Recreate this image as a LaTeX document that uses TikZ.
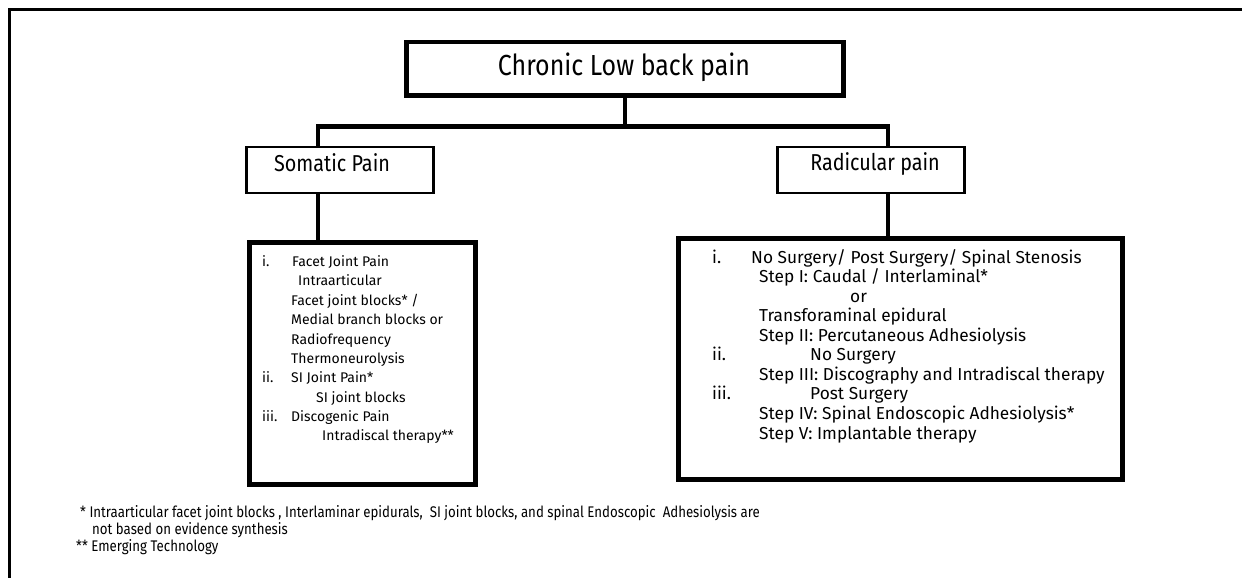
\documentclass[tikz,border=0pt]{standalone}
\usepackage{fontspec}
\setmainfont{Fira Sans}
\newfontfamily\condfont{Fira Sans}[FakeStretch=0.86]

\tikzset{
  titlebox/.style={draw, line width=4.5pt, inner sep=0pt, outer sep=0pt},
  headbox/.style={draw, line width=2.5pt, inner sep=0pt, outer sep=0pt},
  listbox/.style={draw, line width=5pt, inner sep=0pt, outer sep=0pt},
  link/.style={line width=4.5pt},
  txt/.style={anchor=base west, inner sep=0pt, font=\fontsize{14}{17}\selectfont},
  rtxt/.style={anchor=base west, inner sep=0pt, font=\fontsize{17.3}{20}\selectfont},
  headtxt/.style={anchor=base, inner sep=0pt, font=\condfont\fontsize{23}{27}\selectfont},
  note/.style={anchor=base west, inner sep=0pt, font=\condfont\fontsize{15.4}{18}\selectfont}
}

\begin{document}
\begin{tikzpicture}[x=1pt, y=-1pt]
  \useasboundingbox (0,0) rectangle (1242,578);
  % frame, open at right and bottom
  \draw[line width=3pt] (9,578) -- (9,9.5) -- (1242,9.5);

  % boxes
  \node[titlebox, minimum width=437pt, minimum height=53.5pt] (clbp) at (625,68.75) {};
  \node[headtxt, font=\condfont\fontsize{29}{34}\selectfont] (clbptxt) at (624,75) {Chronic Low back pain};
  \node[headbox, minimum width=187pt, minimum height=46pt] (somatic) at (340,170) {};
  \node[headtxt] (somatictxt) at (332,171) {Somatic Pain};
  \node[headbox, minimum width=187pt, minimum height=46pt] (radic) at (871,170) {};
  \node[headtxt] (radictxt) at (875,170) {Radicular pain};
  \node[listbox, minimum width=226pt, minimum height=242pt] (leftbox) at (362.5,363.5) {};
  \node[listbox, minimum width=444pt, minimum height=240.5pt] (rightbox) at (900.5,358.75) {};

  % connectors
  \coordinate (jl) at (318,126.5);
  \coordinate (jr) at (888,126.5);
  \draw[link] (clbp.south) -- (clbp.south |- jl);
  \draw[link] (jl |- somatic.north) -- (jl) -- (jr) -- (jr |- radic.north);
  \draw[link] (jl |- somatic.south) -- (jl |- leftbox.north);
  \draw[link] (jr |- radic.south) -- (jr |- rightbox.north);

  % somatic list
  \foreach \y/\t [count=\i] in {266/i., 382/ii., 421/iii.}
    \node[txt] (sr\i) at (262,\y) {\t};
  \foreach \y/\x/\t [count=\i] in {
      266/292/{Facet Joint Pain},
      285/298/{Intraarticular},
      305/291/{Facet joint blocks* /},
      324/291/{Medial branch blocks or},
      344/291/{Radiofrequency},
      363/291/{Thermoneurolysis},
      382/291/{SI Joint Pain*},
      402/316/{SI joint blocks},
      421/291/{Discogenic Pain},
      440/322/{Intradiscal therapy**}}
    \node[txt] (sl\i) at (\x,\y) {\t};

  % radicular list
  \foreach \y/\t [count=\i] in {263/i., 360/ii., 399/iii.}
    \node[rtxt] (rr\i) at (712,\y) {\t};
  \foreach \y/\x/\t [count=\i] in {
      263/751/{No Surgery/ Post Surgery/ Spinal Stenosis},
      282/759/{Step I: Caudal / Interlaminal*},
      302/850/{or},
      321/759/{Transforaminal epidural},
      341/759/{Step II: Percutaneous Adhesiolysis},
      360/810/{No Surgery},
      380/759/{Step III: Discography and Intradiscal therapy},
      399/810/{Post Surgery},
      419/759/{Step IV: Spinal Endoscopic Adhesiolysis*},
      439/759/{Step V: Implantable therapy}}
    \node[rtxt] (rl\i) at (\x,\y) {\t};

  % footnotes
  \node[note] (fn1) at (80,517) {* Intraarticular facet joint blocks , Interlaminar epidurals,\ \ SI joint blocks, and spinal Endoscopic\ \ Adhesiolysis are};
  \node[note] (fn2) at (92,534) {not based on evidence synthesis};
  \node[note] (fn3) at (76,551) {** Emerging Technology};
\end{tikzpicture}
\end{document}
